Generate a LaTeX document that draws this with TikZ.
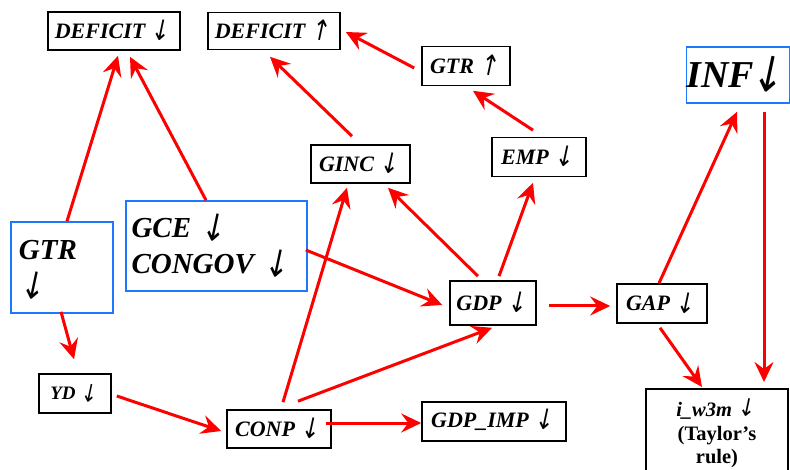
\documentclass[tikz,border=0pt]{standalone}
\usepackage{fontspec}
\setmainfont{Liberation Serif}
\newfontfamily\arrfont{DejaVu Sans}
\usetikzlibrary{arrows.meta}
\definecolor{arrred}{RGB}{255,0,0}
\definecolor{boxblue}{RGB}{30,120,255}
\newcommand{\dnarr}{\smash{\raisebox{-0.13em}{\rotatebox[origin=c]{-12}{\scalebox{1}[1.3]{\arrfont\mdseries\upshape ↓}}}}}
\newcommand{\uparr}{\smash{\raisebox{-0.13em}{\rotatebox[origin=c]{-12}{\scalebox{1}[1.3]{\arrfont\mdseries\upshape ↑}}}}}
\newcommand{\dnarrhi}{\smash{\raisebox{0em}{\rotatebox[origin=c]{-12}{\scalebox{1}[1.2]{\arrfont\mdseries\upshape ↓}}}}}
\begin{document}
\begin{tikzpicture}[x=1pt,y=-1pt,
  bbox/.style={draw=black, line width=1.6pt, inner sep=0pt, align=center,
    font=\bfseries\itshape\fontsize{22}{26}\selectfont},
  blbox/.style={draw=boxblue, line width=1.6pt, inner sep=0pt,
    font=\bfseries\itshape\fontsize{29}{36}\selectfont},
  arr/.style={draw=arrred, line width=3pt,
    -{Stealth[length=20pt,width=19pt,inset=7pt]}}]
\useasboundingbox (0,0) rectangle (790,470);
% nodes
\node[bbox, minimum width=132pt, minimum height=38pt] (def1) at (114,31) {DEFICIT \dnarr};
\node[bbox, minimum width=132pt, minimum height=37pt] (def2) at (274,31) {DEFICIT \uparr};
\node[bbox, minimum width=88pt, minimum height=39pt] (gtru) at (466,66) {GTR \uparr};
\node[bbox, minimum width=94pt, minimum height=39pt] (emp) at (539,157) {EMP \dnarr};
\node[blbox, minimum width=102pt, minimum height=56pt, font=\bfseries\itshape\fontsize{38}{44}\selectfont] (inf) at (738,75) {INF\hspace{-3pt}\dnarr};
\node[bbox, minimum width=99pt, minimum height=38pt] (ginc) at (360.5,164) {GINC \dnarr};
\node[blbox, minimum width=102pt, minimum height=91pt, text width=86pt, align=left] (gtrb) at (62,267.5) {GTR\\\dnarr};
\node[blbox, minimum width=181pt, minimum height=90pt, text width=170pt, align=left] (gce) at (216.5,246) {GCE \dnarr\\CONGOV \dnarr};
\node[bbox, minimum width=72pt, minimum height=39pt, font=\bfseries\itshape\fontsize{19}{22}\selectfont] (yd) at (75,393.5) {YD \dnarr};
\node[bbox, minimum width=104pt, minimum height=38pt] (conp) at (279,429) {CONP \dnarr};
\node[bbox, minimum width=86pt, minimum height=44pt] (gdp) at (493,303) {GDP \dnarr};
\node[bbox, minimum width=90pt, minimum height=39pt] (gap) at (662,303.5) {GAP \dnarr};
\node[bbox, minimum width=144pt, minimum height=39pt] (imp) at (494,421.5) {GDP\_IMP \dnarr};
\node[bbox, minimum width=142pt, minimum height=92pt, anchor=north, align=center,
  font=\bfseries\fontsize{20.5}{23}\selectfont] (iw) at (717,388)
  {\textit{i\_w3m} \dnarrhi\\[1pt](Taylor’s\\rule)};
% connectors
\draw[arr] ([xshift=5pt]gtrb.north) -- ([xshift=4pt,yshift=-5pt]def1.south);
\draw[arr] ([xshift=-10.5pt]gce.north) -- ([xshift=16pt,yshift=-6pt]def1.south);
\draw[arr] ([xshift=-8.5pt,yshift=8pt]ginc.north) -- ([xshift=-4pt,yshift=-6.5pt]def2.south);
\draw[arr] ([xshift=-7pt,yshift=-2pt]gtru.west) -- ([xshift=5pt,yshift=-1pt]def2.east);
\draw[arr] ([xshift=-6pt,yshift=6.5pt]emp.north) -- ([xshift=7pt,yshift=-4.5pt]gtru.south);
\draw[arr] ([xshift=-15pt,yshift=4pt]gdp.north) -- ([xshift=27.5pt,yshift=-4pt]ginc.south);
\draw[arr] ([xshift=6pt,yshift=4pt]gdp.north) -- ([xshift=-6pt,yshift=-5.5pt]emp.south);
\draw[arr] ([xshift=-2pt,yshift=-4pt]gce.east) -- ([xshift=-7pt,yshift=-2pt]gdp.west);
\draw[arr] ([xshift=4pt,yshift=7pt]conp.north) -- ([xshift=-13.5pt,yshift=-4pt]ginc.south);
\draw[arr] ([xshift=19pt,yshift=8pt]conp.north) -- ([xshift=-1pt,yshift=-2pt]gdp.south);
\draw[arr] ([xshift=5pt,yshift=-2.5pt]yd.east) -- ([xshift=-5pt,yshift=-2pt]conp.west);
\draw[arr] ([xshift=-6pt,yshift=6pt]conp.east) -- ([yshift=-1.5pt]imp.west);
\draw[arr] ([xshift=-1pt,yshift=2pt]gtrb.south) -- ([xshift=-1pt,yshift=14pt]yd.north);
\draw[arr] ([xshift=12pt,yshift=-3pt]gdp.east) -- ([xshift=-6pt,yshift=-2.5pt]gap.west);
\draw[arr] ([xshift=-3pt]gap.north) -- ([xshift=-1pt,yshift=-8pt]inf.south);
\draw[arr] ([xshift=26pt,yshift=-8pt]inf.south) -- ([xshift=47pt,yshift=6pt]iw.north);
\draw[arr] ([xshift=-2pt,yshift=-4pt]gap.south) -- ([xshift=-15pt,yshift=1pt]iw.north);
\end{tikzpicture}
\end{document}
